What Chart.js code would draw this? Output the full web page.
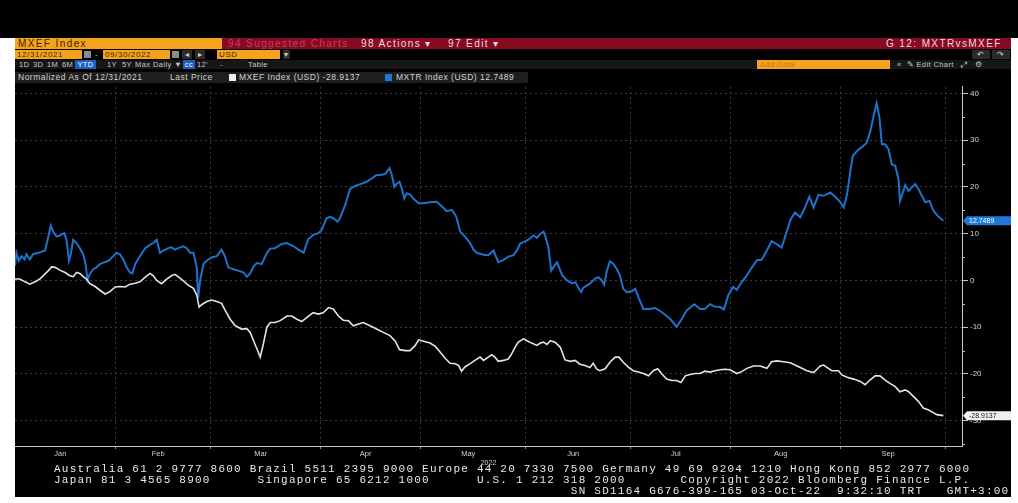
<!DOCTYPE html>
<html><head><meta charset="utf-8">
<script src="https://cdn.jsdelivr.net/npm/chart.js@4"></script>
<style>
html,body{margin:0;padding:0;background:#fff;width:1018px;height:503px;overflow:hidden;font-family:"Liberation Sans",Arial,sans-serif;}
.a{position:absolute;white-space:pre;box-sizing:border-box;}
.hd{font-size:10px;letter-spacing:1.4px;height:11px;line-height:11px;}
.r2{font-size:8px;height:9px;line-height:9px;color:#3b2600;letter-spacing:0.6px;}
.r3{font-size:7.5px;height:9px;line-height:9px;color:#c9c9c9;letter-spacing:0.4px;}
.lg{font-size:8.5px;height:11px;line-height:11px;color:#d2d2d2;letter-spacing:0.5px;}
.ft{font-family:"Liberation Mono","DejaVu Sans Mono",monospace;font-size:11px;line-height:11px;color:#e8e8e8;letter-spacing:1.23px;}
</style>
</head><body>
<div class="a" style="left:0;top:0;width:1018px;height:38px;background:#000"></div>
<div class="a" style="left:15px;top:38px;width:996px;height:459px;background:#000"></div>

<!-- row 1 -->
<div class="a hd" style="left:15px;top:38px;width:207px;background:#f5a21c;color:#3b2600;padding-left:3px">MXEF Index</div>
<div class="a hd" style="left:222px;top:38px;width:789px;background:#860a20"></div>
<div class="a hd" style="left:228px;top:38px;color:#c4405a">94 Suggested Charts</div>
<div class="a hd" style="left:361px;top:38px;color:#f3d9dd">98 Actions ▾</div>
<div class="a hd" style="left:448px;top:38px;color:#f3d9dd">97 Edit ▾</div>
<div class="a hd" style="left:886px;top:38px;color:#f3d9dd">G 12: MXTRvsMXEF</div>

<!-- row 2 -->
<div class="a r2" style="left:15px;top:50px;width:67px;background:#f5a21c;padding-left:2px">12/31/2021</div>
<div class="a" style="left:84px;top:51px;width:7px;height:7px;background:#8a8a8a"></div>
<div class="a r2" style="left:95px;top:50px;color:#cfcfcf">-</div>
<div class="a r2" style="left:103px;top:50px;width:67px;background:#f5a21c;padding-left:2px">09/30/2022</div>
<div class="a" style="left:172px;top:51px;width:7px;height:7px;background:#8a8a8a"></div>
<div class="a r2" style="left:182px;top:50px;width:10px;background:#2c2c2c;color:#d0d0d0;text-align:center">◂</div>
<div class="a r2" style="left:195px;top:50px;width:10px;background:#2c2c2c;color:#d0d0d0;text-align:center">▸</div>
<div class="a r2" style="left:217px;top:50px;width:63px;background:#f5a21c;padding-left:2px">USD</div>
<div class="a r2" style="left:283px;top:50px;width:7px;background:#2c2c2c;color:#d0d0d0;text-align:center">▾</div>
<div class="a r2" style="left:972px;top:50px;width:18px;background:#2a2a2a;color:#cfcfcf;text-align:center">↶</div>
<div class="a r2" style="left:992px;top:50px;width:18px;background:#2a2a2a;color:#cfcfcf;text-align:center">↷</div>

<!-- row 3 -->
<div class="a" style="left:15px;top:60px;width:996px;height:9px;background:#161616"></div>
<div class="a r3" style="left:19px;top:60px">1D</div>
<div class="a r3" style="left:33px;top:60px">3D</div>
<div class="a r3" style="left:47px;top:60px">1M</div>
<div class="a r3" style="left:62px;top:60px">6M</div>
<div class="a r3" style="left:75px;top:60px;width:21px;background:#1d5fbf;color:#fff;text-align:center">YTD</div>
<div class="a r3" style="left:107px;top:60px">1Y</div>
<div class="a r3" style="left:122px;top:60px">5Y</div>
<div class="a r3" style="left:135px;top:60px">Max</div>
<div class="a r3" style="left:153px;top:60px">Daily ▼</div>
<div class="a r3" style="left:183px;top:60px;width:12px;background:#1d5fbf;color:#fff;text-align:center">cc</div>
<div class="a r3" style="left:197px;top:60px">12'</div>
<div class="a r3" style="left:220px;top:60px">-</div>
<div class="a r3" style="left:248px;top:60px">Table</div>
<div class="a r3" style="left:757px;top:60px;width:133px;background:#f5a21c;color:#c27a10;padding-left:3px">Add Data</div>
<div class="a r3" style="left:897px;top:60px">«  ✎ Edit Chart   ⤢   ⚙</div>

<!-- legend row -->
<div class="a" style="left:15px;top:72px;width:513px;height:11px;background:#1e1e1e"></div>
<div class="a lg" style="left:18px;top:72px">Normalized As Of 12/31/2021</div>
<div class="a lg" style="left:170px;top:72px">Last Price</div>
<div class="a" style="left:229px;top:74px;width:7px;height:7px;background:#f2f2f2"></div>
<div class="a lg" style="left:239px;top:72px">MXEF Index (USD) -28.9137</div>
<div class="a" style="left:385px;top:74px;width:7px;height:7px;background:#1f78d6"></div>
<div class="a lg" style="left:396px;top:72px">MXTR Index (USD) 12.7489</div>

<!-- chart -->
<div class="a" style="left:15px;top:80px;width:996px;height:387px"><canvas id="c"></canvas></div>

<!-- footer -->
<div class="a ft" style="left:54px;top:464px">Australia 61 2 9777 8600 Brazil 5511 2395 9000 Europe 44 20 7330 7500 Germany 49 69 9204 1210 Hong Kong 852 2977 6000
Japan 81 3 4565 8900      Singapore 65 6212 1000      U.S. 1 212 318 2000       Copyright 2022 Bloomberg Finance L.P.
                                                                  SN SD1164 G676-399-165 03-Oct-22  9:32:10 TRT   GMT+3:00</div>

<script>
// Trading-day index (0 = 3 Jan 2022) of the first weekday of each month, Jan..Oct
const monthStartDay = [0, 21, 41, 64, 85, 107, 129, 150, 173, 195];
const monthNames = ['Jan', 'Feb', 'Mar', 'Apr', 'May', 'Jun', 'Jul', 'Aug', 'Sep'];
const yearLabel = '2022';
const yTickValues = [-30, -20, -10, 0, 10, 20, 30, 40];

// MXEF Index (USD), normalized % change since 12/31/2021
const mxefDay = [0,1.0,2.1,3.1,4.2,5.2,6.3,7.0,7.7,8.4,9.4,10.5,11.5,12.2,12.9,13.6,14.3,15.0,15.7,16.8,17.8,18.9,19.9,21.0,22.0,23.1,24.1,25.2,26.2,27.3,28.3,29.0,29.7,30.7,31.8,32.8,33.5,34.2,35.3,36.3,37.4,38.1,38.6,39.1,40.2,41.2,42.3,43.3,44.0,45.1,46.1,47.5,48.6,
49.3,50.0,50.7,51.4,51.9,52.8,53.5,54.5,55.6,57.0,58.0,59.1,60.1,61.2,62.5,63.6,64.6,65.7,66.7,67.8,68.8,69.9,70.9,72.0,73.0,74.4,75.8,77.2,78.6,79.7,80.6,81.8,82.8,83.9,84.6,85.6,87.0,88.1,89.1,90.2,91.2,92.3,93.0,93.6,94.3,95.4,96.4,97.5,98.2,
99.2,99.9,100.6,101.3,102.4,103.4,104.1,104.8,105.5,106.6,107.3,108.3,109.4,110.1,110.8,111.5,112.2,113.2,114.3,115.3,116.4,117.4,118.4,119.5,120.5,121.2,121.9,122.6,123.7,124.7,125.8,126.6,127.5,128.6,129.6,130.7,131.7,132.8,133.8,134.7,135.6,136.6,137.7,138.7,139.6,140.5,141.5,142.6,143.6,144.6,145.7,146.7,
147.8,148.8,149.9,151.3,152.3,153.4,154.8,156.2,157.6,158.6,159.7,161.1,162.5,163.5,164.6,166.0,167.4,168.1,168.8,169.5,170.2,171.2,172.6,173.3,174.4,175.8,177.2,178.2,179.2,180.3,181.3,182.4,183.4,184.5,185.5,186.6,187.3,188.3,189.4,190.4,191.5,192.4,193.2,194.6];
const mxefVal = [0.3,0.3,-0.3,-0.8,-0.3,0.3,1.4,2.1,2.9,2.8,2.2,1.7,1.0,0.8,1.7,1.5,0.8,0.3,-0.7,-1.3,-2.1,-2.9,-2.4,-1.4,-1.3,-1.4,-0.8,-0.6,-0.3,0.7,1.5,1.0,0,-0.7,0.3,1.0,1.3,0.8,-0.1,-1.0,-1.7,-3.1,-5.7,-5.2,-4.5,-4.2,-4.5,-4.9,-6.3,-8.3,-9.6,-10.4,-10.3,
-11.1,-12.9,-14.6,-16.4,-14.3,-10.0,-9.0,-9.0,-8.6,-7.6,-7.6,-8.3,-8.8,-7.9,-6.9,-7.2,-6.9,-5.8,-6.1,-7.6,-8.5,-8.6,-9.7,-9.3,-9.0,-9.7,-10.4,-11.1,-11.8,-13.0,-14.8,-15.0,-15.0,-13.9,-12.7,-13.0,-13.4,-14.1,-15.3,-16.7,-17.7,-17.8,-18.2,-19.4,-18.5,-17.8,-17.1,-16.4,-17.1,
-16.4,-15.9,-16.4,-17.3,-17.1,-16.8,-15.7,-14.3,-13.2,-12.5,-12.9,-13.4,-13.9,-13.4,-13.2,-13.7,-12.9,-13.2,-14.3,-17.0,-17.3,-17.1,-17.9,-18.2,-18.6,-17.7,-18.9,-19.3,-18.9,-17.5,-16.4,-16.4,-17.5,-18.6,-19.3,-19.6,-19.9,-20.4,-19.3,-18.9,-20.0,-21.1,-21.4,-21.4,-21.8,-20.4,-20.1,-19.9,-19.9,-19.4,-19.6,-19.3,
-19.1,-19.0,-19.1,-19.9,-19.5,-18.8,-18.3,-18.3,-18.8,-17.4,-17.2,-17.4,-17.6,-18.1,-18.6,-19.3,-19.7,-19.0,-18.3,-18.1,-18.6,-19.3,-19.3,-20.2,-20.7,-21.1,-21.6,-22.3,-21.3,-20.4,-20.4,-21.3,-22.0,-22.7,-23.8,-23.4,-23.8,-24.8,-25.9,-27.3,-27.7,-28.2,-28.7,-28.9137];

// MXTR Index (USD), normalized % change since 12/31/2021
const mxtrDay = [0,0.3,0.8,1.4,2.0,2.4,3.1,3.8,4.9,6.3,7.0,7.5,8.0,8.7,9.4,10.3,10.8,11.3,11.7,12.2,12.9,13.6,14.3,14.8,15.2,15.7,16.4,17.1,17.8,18.5,19.6,20.6,21.3,22.0,22.7,23.4,24.1,24.6,25.2,26.2,27.3,28.3,29.0,29.7,30.4,31.1,32.1,32.8,33.5,34.2,35.3,36.0,36.7,37.4,38.1,38.4,38.8,39.5,40.2,41.2,42.3,43.3,44.0,44.7,45.8,46.8,47.9,48.6,49.3,
50.0,50.7,51.7,52.8,53.5,54.5,55.9,57.0,58.4,59.4,60.5,60.8,61.5,62.6,63.6,64.3,65.3,66.0,66.7,67.6,68.1,69.2,70.2,71.3,72.7,73.7,74.8,75.7,76.9,77.6,78.5,79.0,79.5,80.0,80.6,81.1,81.6,82.1,82.8,83.5,84.6,85.6,87.0,88.4,89.5,90.5,91.6,92.5,93.3,94.3,95.4,96.1,96.8,98.2,
99.2,100.3,101.3,102.4,103.4,104.5,105.2,105.9,106.6,107.6,108.7,109.4,110.1,110.8,111.2,111.8,112.4,112.9,113.6,114.0,114.7,115.7,116.7,117.5,118.2,118.7,119.1,119.8,120.5,121.6,122.3,123.0,123.5,124.0,124.7,125.4,126.1,126.8,127.5,128.2,129.3,130.0,130.7,131.7,132.8,134.2,135.6,137.3,138.7,139.8,140.8,142.4,143.6,144.6,145.7,146.7,
147.8,148.6,149.5,150.5,151.3,152.3,153.4,154.4,155.5,156.5,157.6,158.6,159.7,160.7,161.8,162.6,163.5,164.6,165.6,166.5,167.4,168.4,169.5,170.9,171.9,172.8,173.7,174.4,175.1,175.6,176.5,177.5,178.5,179.2,179.9,180.6,181.2,181.7,182.4,183.1,183.8,184.5,185.2,185.5,186.1,186.6,187.3,188.0,188.7,189.4,190.1,190.8,191.7,192.5,193.6,194.6];
const mxtrVal = [3.1,5.9,4.2,5.2,4.5,5.6,4.5,5.6,5.9,6.4,9.4,11.7,10.4,9.4,9.6,10.1,8.7,4.2,5.6,8.7,8.0,6.9,5.6,3.5,0.1,1.4,2.4,2.8,3.5,3.8,4.2,5.2,5.9,5.6,4.5,2.8,1.7,1.5,3.5,5.2,6.9,7.6,8.0,8.7,5.9,6.4,6.9,7.1,6.6,6.9,7.3,6.9,5.9,5.9,2.8,-3.8,0,3.5,4.2,4.9,5.2,6.6,5.2,2.8,2.4,2.1,1.7,0.8,1.5,
3.0,3.7,3.5,5.9,6.8,6.9,7.8,8.0,7.3,6.6,5.9,6.9,8.9,9.8,10.1,10.8,13.3,13.6,13.3,12.6,13.3,16.1,19.5,20.2,20.7,21.1,21.8,22.5,22.6,22.8,24.0,22.5,20.0,20.7,21.1,19.6,17.5,18.6,18.4,17.5,16.5,16.5,16.7,16.8,15.8,14.8,15.1,13.6,10.5,9.4,8.0,6.6,5.9,5.5,
5.4,6.4,3.9,4.4,5.1,5.4,6.4,7.9,8.2,8.7,9.6,9.1,10.0,10.4,9.3,7.1,2.1,2.9,3.9,2.9,1.1,0,-0.6,-0.4,-1.8,-2.5,-1.6,-1.1,-0.7,0.4,0.7,0,-0.9,1.8,4.1,3.6,2.5,1.1,-1.8,-2.5,-2.3,-1.8,-3.6,-6.1,-6.1,-5.9,-6.8,-8.2,-9.9,-8.2,-6.4,-5.1,-6.1,-6.1,-5.1,-5.6,
-5.7,-6.2,-3.2,-1.4,-2.0,-0.4,1.1,2.7,4.3,4.4,6.4,8.4,7.7,7.0,10.6,13.1,14.5,13.5,15.6,17.9,15.6,18.3,18.1,18.8,17.9,17.0,15.6,18.4,23.4,26.6,27.7,28.5,29.4,31.6,34.8,37.9,34.8,29.1,29.1,28.0,24.8,24.5,21.6,17.0,18.8,20.4,19.1,19.9,20.6,19.5,18.1,16.7,17.0,14.9,13.6,12.7489];

const toPoints = (xs, ys) => xs.map((x, i) => ({ x: x, y: ys[i] }));
const monthMid = monthNames.map((m, i) => (monthStartDay[i] + monthStartDay[i + 1]) / 2 - 1);
const boundaries = monthStartDay.slice(1);

const tagPlugin = {
  id: 'tags',
  afterDraw(chart) {
    const { ctx, chartArea, scales } = chart;
    const y = scales.y;
    const tags = [
      { v: mxtrVal[mxtrVal.length - 1], bg: '#1f78d6', fg: '#ffffff', txt: mxtrVal[mxtrVal.length - 1].toFixed(4) },
      { v: mxefVal[mxefVal.length - 1], bg: '#f0f0f0', fg: '#111111', txt: mxefVal[mxefVal.length - 1].toFixed(4) }
    ];
    ctx.save();
    // minor ticks every 5
    ctx.strokeStyle = '#bdbdbd';
    ctx.lineWidth = 1;
    for (let v = -35; v <= 40; v += 10) {
      const py = Math.round(y.getPixelForValue(v)) + 0.5;
      ctx.beginPath(); ctx.moveTo(chartArea.right, py); ctx.lineTo(chartArea.right + 3, py); ctx.stroke();
    }
    ctx.font = '7px "Liberation Sans", Arial, sans-serif';
    ctx.textBaseline = 'middle';
    tags.forEach(t => {
      const py = y.getPixelForValue(t.v);
      const x0 = chartArea.right + 5, w = chart.width - x0, h = 9;
      ctx.fillStyle = t.bg;
      ctx.beginPath();
      ctx.moveTo(x0 - 4, py);
      ctx.lineTo(x0, py - h / 2);
      ctx.lineTo(x0 + w, py - h / 2);
      ctx.lineTo(x0 + w, py + h / 2);
      ctx.lineTo(x0, py + h / 2);
      ctx.closePath();
      ctx.fill();
      ctx.fillStyle = t.fg;
      ctx.fillText(t.txt, x0 + 2, py + 0.5);
    });
    ctx.restore();
  }
};

new Chart(document.getElementById('c'), {
  type: 'line',
  data: {
    datasets: [
      { label: 'MXEF Index (USD)', data: toPoints(mxefDay, mxefVal), borderColor: '#e4e4e4', borderWidth: 1.6, pointRadius: 0, tension: 0 },
      { label: 'MXTR Index (USD)', data: toPoints(mxtrDay, mxtrVal), borderColor: '#1f72cc', borderWidth: 2, pointRadius: 0, tension: 0 }
    ]
  },
  options: {
    responsive: true,
    maintainAspectRatio: false,
    animation: false,
    layout: { padding: 0 },
    plugins: { legend: { display: false }, tooltip: { enabled: false } },
    scales: {
      x: {
        type: 'linear', min: 0, max: 198.5,
        afterBuildTicks: s => { s.ticks = boundaries.concat(monthMid).map(v => ({ value: v })); },
        afterFit: s => { s.height = 21; },
        ticks: {
          autoSkip: false, maxRotation: 0, padding: 0, color: '#cfcfcf',
          font: { size: 7.5, family: 'Liberation Sans' },
          callback: v => { const i = monthMid.indexOf(v); return i >= 0 ? monthNames[i] : ''; }
        },
        grid: {
          color: c => (c.tick && boundaries.includes(c.tick.value)) ? '#3c3c3c' : 'transparent',
          tickColor: c => (c.tick && boundaries.includes(c.tick.value)) ? '#8a8a8a' : 'transparent',
          tickLength: 3, lineWidth: 1
        },
        border: { display: true, color: '#c8c8c8', width: 1, dash: [2, 3] },
        title: { display: true, text: yearLabel, color: '#cfcfcf', font: { size: 7, family: 'Liberation Sans' }, padding: { top: -1, bottom: 0 } }
      },
      y: {
        position: 'right', min: -35.4, max: 41.4,
        afterBuildTicks: s => { s.ticks = yTickValues.map(v => ({ value: v })); },
        afterFit: s => { s.width = 49; },
        ticks: { color: '#d4d4d4', padding: 2, font: { size: 8, family: 'Liberation Sans' } },
        grid: { color: '#3c3c3c', tickColor: '#c8c8c8', tickLength: 6, lineWidth: 1 },
        border: { display: true, color: '#c8c8c8', width: 1, dash: [2, 3] }
      }
    }
  },
  plugins: [tagPlugin]
});
</script>
</body></html>
